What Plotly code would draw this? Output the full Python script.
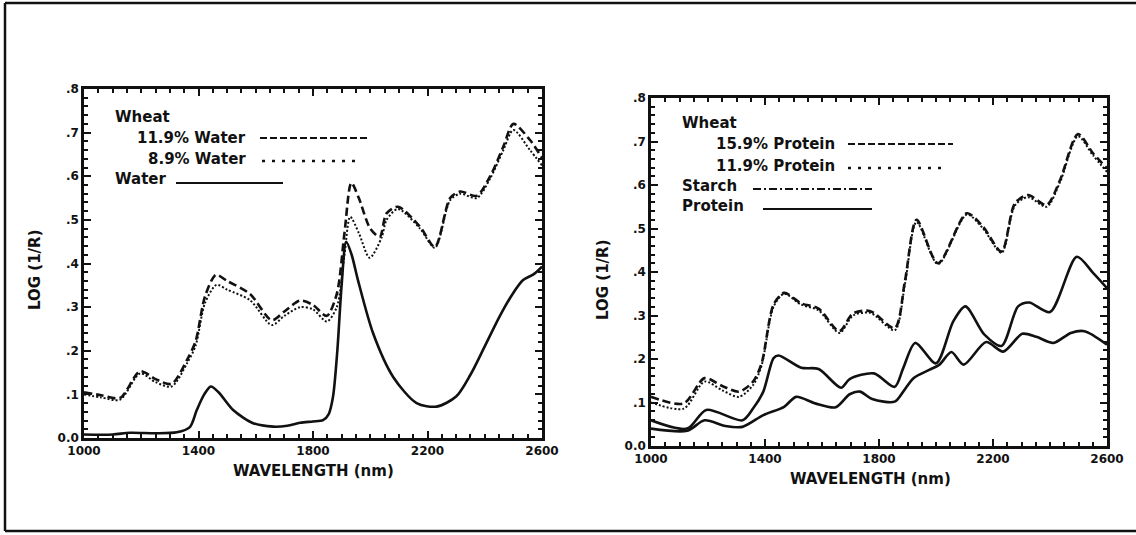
import plotly.graph_objects as go

# ---------------- data ----------------
# Left panel: Wheat with different water contents, and pure water
wl_w119 = [1000, 1060, 1126, 1196, 1250, 1306, 1359, 1390, 1423, 1461, 1500, 1580, 1656, 1700,
           1755, 1800, 1848, 1883, 1910, 1934, 1960, 2000, 2033, 2057, 2097, 2174, 2226, 2279,
           2314, 2372, 2419, 2465, 2500, 2558, 2600]
v_w119 = [0.105, 0.098, 0.092, 0.153, 0.135, 0.124, 0.178, 0.222, 0.325, 0.374, 0.360, 0.330, 0.270, 0.290,
          0.315, 0.305, 0.280, 0.330, 0.470, 0.585, 0.550, 0.480, 0.461, 0.515, 0.530, 0.484, 0.438, 0.550,
          0.565, 0.555, 0.600, 0.668, 0.720, 0.683, 0.642]

wl_w89 = [1000, 1060, 1126, 1196, 1250, 1306, 1359, 1390, 1423, 1463, 1500, 1580, 1656, 1700,
          1755, 1800, 1848, 1883, 1910, 1930, 1960, 1998, 2040, 2057, 2097, 2174, 2226, 2279,
          2314, 2372, 2419, 2465, 2500, 2558, 2600]
v_w89 = [0.100, 0.093, 0.088, 0.148, 0.128, 0.118, 0.170, 0.212, 0.310, 0.351, 0.340, 0.316, 0.259, 0.280,
         0.300, 0.295, 0.267, 0.300, 0.420, 0.507, 0.470, 0.413, 0.460, 0.500, 0.525, 0.480, 0.436, 0.545,
         0.560, 0.550, 0.595, 0.660, 0.706, 0.660, 0.625]

wl_water = [1000, 1100, 1160, 1250, 1324, 1370, 1394, 1420, 1443, 1470, 1521, 1591, 1661, 1710,
            1755, 1800, 1835, 1855, 1870, 1885, 1900, 1916, 1935, 1957, 2010, 2080, 2162, 2232,
            2300, 2350, 2400, 2453, 2499, 2534, 2570, 2600]
v_water = [0.008, 0.008, 0.012, 0.011, 0.013, 0.025, 0.064, 0.100, 0.118, 0.105, 0.064, 0.034, 0.026, 0.028,
           0.035, 0.038, 0.041, 0.055, 0.095, 0.200, 0.350, 0.450, 0.420, 0.362, 0.240, 0.140, 0.080, 0.072,
           0.095, 0.145, 0.210, 0.280, 0.332, 0.362, 0.375, 0.393]

# Right panel: Wheat with different protein contents, starch and protein
wl_p159 = [1000, 1115, 1188, 1250, 1309, 1358, 1388, 1430, 1467, 1527, 1588, 1661, 1709, 1770,
           1855, 1891, 1932, 2007, 2108, 2165, 2230, 2277, 2323, 2388, 2435, 2498, 2551, 2600]
v_p159 = [0.113, 0.098, 0.156, 0.138, 0.125, 0.148, 0.190, 0.325, 0.352, 0.328, 0.316, 0.264, 0.305, 0.310,
          0.271, 0.379, 0.520, 0.420, 0.535, 0.504, 0.447, 0.558, 0.577, 0.554, 0.611, 0.717, 0.673, 0.638]

wl_p119 = [1000, 1115, 1188, 1250, 1309, 1358, 1388, 1430, 1467, 1527, 1588, 1661, 1709, 1770,
           1855, 1891, 1932, 2007, 2108, 2165, 2230, 2277, 2323, 2388, 2435, 2498, 2551, 2600]
v_p119 = [0.100, 0.086, 0.148, 0.128, 0.113, 0.140, 0.185, 0.320, 0.350, 0.325, 0.312, 0.260, 0.300, 0.306,
          0.266, 0.372, 0.515, 0.418, 0.532, 0.500, 0.444, 0.553, 0.572, 0.550, 0.606, 0.712, 0.668, 0.630]

wl_starch = [1000, 1127, 1194, 1321, 1358, 1394, 1430, 1448, 1527, 1588, 1667, 1697, 1782, 1855,
             1885, 1927, 2000, 2061, 2103, 2170, 2230, 2288, 2327, 2400, 2494, 2551, 2600]
v_starch = [0.059, 0.040, 0.083, 0.059, 0.086, 0.125, 0.202, 0.208, 0.180, 0.177, 0.134, 0.154, 0.167, 0.136,
            0.179, 0.237, 0.190, 0.287, 0.321, 0.256, 0.230, 0.321, 0.330, 0.308, 0.435, 0.398, 0.363]

wl_protein = [1000, 1127, 1188, 1261, 1321, 1394, 1467, 1509, 1576, 1648, 1697, 1733, 1776, 1855,
              1885, 1921, 1976, 2012, 2054, 2097, 2176, 2236, 2303, 2352, 2412, 2473, 2521, 2600]
v_protein = [0.040, 0.035, 0.059, 0.046, 0.044, 0.071, 0.090, 0.113, 0.098, 0.089, 0.119, 0.125, 0.108, 0.102,
             0.125, 0.156, 0.175, 0.187, 0.216, 0.187, 0.239, 0.217, 0.258, 0.251, 0.237, 0.260, 0.264, 0.233]

y_tickvals = [0.0, 0.1, 0.2, 0.3, 0.4, 0.5, 0.6, 0.7, 0.8]
y_ticktext = ["0.0", ".1", ".2", ".3", ".4", ".5", ".6", ".7", ".8"]
x_tickvals = [1000, 1400, 1800, 2200, 2600]
x_ticktext = ["1000", "1400", "1800", "2200", "2600"]

# ---------------- figure ----------------
W, H = 1136, 535
FONT = "DejaVu Sans"
INK = "#111111"


def px(x):
    return x / W


def py(y):
    return 1 - y / H


fig = go.Figure()

common = dict(mode="lines", line_shape="spline", showlegend=False, hoverinfo="skip")
fig.add_trace(go.Scatter(x=wl_w119, y=v_w119, xaxis="x", yaxis="y",
                         line=dict(color=INK, width=2.6, dash="8px,4px", smoothing=0.8), **common))
fig.add_trace(go.Scatter(x=wl_w89, y=v_w89, xaxis="x", yaxis="y",
                         line=dict(color=INK, width=2, dash="2px,2px", smoothing=0.8), **common))
fig.add_trace(go.Scatter(x=wl_water, y=v_water, xaxis="x", yaxis="y",
                         line=dict(color=INK, width=2.6, smoothing=0.8), **common))

fig.add_trace(go.Scatter(x=wl_p159, y=v_p159, xaxis="x2", yaxis="y2",
                         line=dict(color=INK, width=2.6, dash="8px,4px", smoothing=0.8), **common))
fig.add_trace(go.Scatter(x=wl_p119, y=v_p119, xaxis="x2", yaxis="y2",
                         line=dict(color=INK, width=2, dash="2px,2px", smoothing=0.8), **common))
fig.add_trace(go.Scatter(x=wl_starch, y=v_starch, xaxis="x2", yaxis="y2",
                         line=dict(color=INK, width=2.6, smoothing=0.8), **common))
fig.add_trace(go.Scatter(x=wl_protein, y=v_protein, xaxis="x2", yaxis="y2",
                         line=dict(color=INK, width=2.6, smoothing=0.8), **common))

tickfont = dict(family=FONT, size=12, color=INK, weight="bold")

xax = dict(range=[1000, 2600], tickvals=x_tickvals, ticktext=x_ticktext, ticks="inside",
           ticklen=7, tickwidth=2, tickcolor=INK, showline=True, linewidth=2.5, linecolor=INK,
           mirror="allticks", showgrid=False, zeroline=False, tickfont=tickfont,
           minor=dict(dtick=50, ticks="inside", ticklen=4, tickwidth=1.5, tickcolor=INK, showgrid=False))
yax = dict(range=[0, 0.8], tickvals=y_tickvals, ticktext=y_ticktext, ticks="inside",
           ticklen=7, tickwidth=2, tickcolor=INK, showline=True, linewidth=2.5, linecolor=INK,
           mirror="allticks", showgrid=False, zeroline=False, tickfont=tickfont,
           minor=dict(dtick=0.02, ticks="inside", ticklen=4, tickwidth=1.5, tickcolor=INK, showgrid=False))

fig.update_layout(
    width=W, height=H,
    margin=dict(l=0, r=0, t=0, b=0, autoexpand=False),
    paper_bgcolor="white", plot_bgcolor="white",
    xaxis=dict(domain=[px(84), px(542)], anchor="y", **xax),
    yaxis=dict(domain=[py(438), py(89)], anchor="x", **yax),
    xaxis2=dict(domain=[px(651), px(1107)], anchor="y2", **xax),
    yaxis2=dict(domain=[py(446), py(98)], anchor="x2", **yax),
)

lab = dict(family=FONT, size=15, color=INK, weight="bold")
ann = []


def text(x, y, s, anchor="left", angle=0):
    ann.append(dict(x=px(x), y=py(y), xref="paper", yref="paper", text=s, showarrow=False,
                    xanchor=anchor, yanchor="middle", font=lab, textangle=angle))


# axis titles
text(313, 471, "WAVELENGTH (nm)", anchor="center")
text(870, 479, "WAVELENGTH (nm)", anchor="center")
text(35, 270, "LOG (1/R)", anchor="center", angle=-90)
text(603, 280, "LOG (1/R)", anchor="center", angle=-90)

# left legend
text(113, 117, "Wheat")
text(248, 138, "11.9% Water", anchor="right")
text(248, 159, "8.9% Water", anchor="right")
text(113, 179, "Water")
# right legend
text(680, 123, "Wheat")
text(837, 144, "15.9% Protein", anchor="right")
text(837, 166, "11.9% Protein", anchor="right")
text(680, 186, "Starch")
text(680, 206, "Protein")

fig.update_layout(annotations=ann)

shapes = []


def seg(x0, y0, x1, y1, dash="solid", width=2.2):
    shapes.append(dict(type="line", xref="paper", yref="paper", x0=px(x0), y0=py(y0), x1=px(x1), y1=py(y1),
                       line=dict(color=INK, width=width, dash=dash)))


# legend samples
seg(260, 138, 367, 138, "7px,3px")
seg(262, 161, 362, 161, "3px,7px", 2.5)
seg(176, 183, 283, 183)
seg(848, 144, 953, 144, "7px,3px")
seg(848, 168, 948, 168, "3px,7px", 2.5)
seg(753, 189, 872, 189, "8px,3px,2px,3px")
seg(763, 209, 872, 209)

# outer frame (top, left, bottom)
seg(5, 3, 1136, 3, width=2.5)
seg(5, 3, 5, 531, width=2.5)
seg(5, 531, 1136, 531, width=2.5)

fig.update_layout(shapes=shapes)

fig.write_html("out.html", post_script="document.body.style.margin='0';document.body.style.overflow='hidden';")
